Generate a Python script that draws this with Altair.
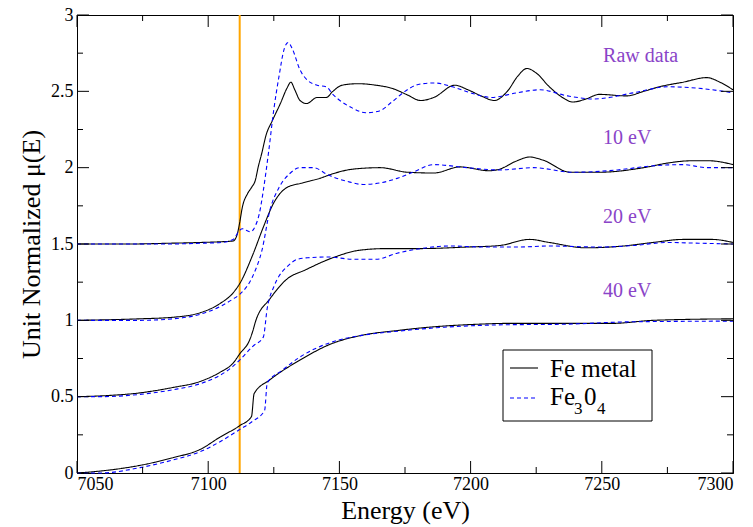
import altair as alt
import pandas as pd

# Fe K-edge normalized absorption, Fe metal vs Fe3O4, at several broadenings.
# Each broadening level is shifted up by 0.5 for display.

raw_fe_e = [7050, 7070, 7085, 7097, 7105, 7109.5, 7111, 7112, 7113, 7115, 7116.5, 7118,
            7119, 7120.5, 7122, 7124.5, 7127.5, 7130, 7131.5, 7133, 7135, 7137.5, 7141.5,
            7145, 7147.5, 7151, 7157, 7164, 7170, 7175.5, 7181, 7186, 7194, 7199, 7204,
            7209, 7214, 7218, 7221.5, 7225, 7230, 7235, 7239, 7244, 7249, 7259.5, 7266,
            7272, 7281, 7290, 7295, 7300]
raw_fe_mu = [1.50, 1.50, 1.505, 1.51, 1.515, 1.52, 1.56, 1.64, 1.74, 1.83, 1.87, 1.92,
             2.00, 2.10, 2.21, 2.31, 2.42, 2.52, 2.56, 2.51, 2.44, 2.42, 2.46,
             2.46, 2.50, 2.54, 2.55, 2.54, 2.52, 2.48, 2.44, 2.46, 2.54, 2.51, 2.47,
             2.44, 2.50, 2.60, 2.65, 2.62, 2.53, 2.46, 2.43, 2.45, 2.48, 2.47, 2.50,
             2.53, 2.56, 2.59, 2.56, 2.51]

raw_ox_e = [7050, 7070, 7085, 7097, 7105, 7109.5, 7112, 7113, 7116, 7118, 7119.5, 7121,
            7123, 7125, 7127, 7129, 7130.5, 7132, 7135, 7138, 7141.5, 7145, 7147.5, 7151,
            7155, 7160, 7165, 7170, 7175, 7180, 7186, 7193, 7200, 7208, 7217.5, 7226.5,
            7237, 7247, 7262, 7275, 7287, 7300]
raw_ox_mu = [1.50, 1.50, 1.50, 1.505, 1.51, 1.53, 1.59, 1.60, 1.58, 1.62, 1.70, 1.85,
             2.10, 2.38, 2.60, 2.78, 2.82, 2.78, 2.64, 2.57, 2.54, 2.53, 2.48, 2.43,
             2.39, 2.36, 2.37, 2.43, 2.50, 2.545, 2.555, 2.53, 2.49, 2.46, 2.49, 2.51,
             2.47, 2.45, 2.49, 2.53, 2.52, 2.49]

b10_fe_e = [7050, 7074, 7086.5, 7097, 7104.5, 7109.5, 7112, 7117, 7121, 7125, 7130, 7136,
            7142.5, 7147.5, 7155, 7165.5, 7176, 7186, 7196, 7207, 7211, 7217, 7222.5,
            7227.5, 7238, 7249, 7266, 7275, 7284, 7291, 7300]
b10_fe_mu = [1.00, 1.01, 1.02, 1.05, 1.11, 1.18, 1.24, 1.43, 1.61, 1.77, 1.87, 1.90,
             1.93, 1.96, 1.99, 2.00, 1.97, 1.965, 2.005, 1.98, 1.99, 2.04, 2.07,
             2.05, 1.97, 1.97, 2.00, 2.03, 2.045, 2.045, 2.02]

b10_ox_e = [7050, 7074, 7086.5, 7097, 7104.5, 7109.5, 7112, 7117, 7120.5, 7123.5, 7127,
            7131, 7135, 7140, 7146, 7153, 7159, 7165.5, 7172, 7178, 7186, 7198.5, 7211,
            7224, 7239, 7256, 7268, 7281, 7290, 7300]
b10_ox_mu = [1.00, 1.00, 1.01, 1.04, 1.09, 1.14, 1.17, 1.29, 1.46, 1.72, 1.87,
             1.96, 2.00, 2.00, 1.95, 1.91, 1.89, 1.90, 1.93, 1.97, 2.02, 2.00, 1.985,
             2.00, 1.97, 1.985, 2.01, 2.02, 2.00, 2.00]

b20_fe_e = [7050, 7059, 7074, 7086.5, 7097, 7104.5, 7109.5, 7112, 7116, 7117, 7118, 7123.5,
            7130, 7137, 7147.5, 7158, 7168, 7181, 7198.5, 7211, 7222.5, 7230, 7244, 7257,
            7269.5, 7281, 7292, 7300]
b20_fe_mu = [0.50, 0.505, 0.525, 0.56, 0.60, 0.66, 0.72, 0.78, 0.88, 0.93, 0.99, 1.14,
             1.27, 1.33, 1.41, 1.46, 1.47, 1.47, 1.48, 1.49, 1.53, 1.51, 1.475, 1.485,
             1.51, 1.53, 1.53, 1.51]

b20_ox_e = [7050, 7059, 7074, 7086.5, 7097, 7104.5, 7109.5, 7112, 7117, 7121, 7122.5, 7125,
            7127, 7130, 7134, 7138, 7146, 7155, 7164, 7172, 7181, 7192, 7205, 7218, 7230,
            7249, 7262, 7275, 7287, 7300]
b20_ox_mu = [0.50, 0.50, 0.515, 0.545, 0.585, 0.64, 0.70, 0.74, 0.83, 0.89, 1.08, 1.22,
             1.29, 1.35, 1.40, 1.41, 1.415, 1.40, 1.40, 1.44, 1.47, 1.487, 1.48, 1.48, 1.487,
             1.48, 1.49, 1.51, 1.505, 1.50]

b40_fe_e = [7050, 7059, 7074, 7086.5, 7097, 7104.5, 7112, 7116.5, 7117.5, 7123.5, 7135,
            7147.5, 7158, 7173, 7181, 7203.5, 7214, 7237, 7254, 7269.5, 7300]
b40_fe_mu = [0.00, 0.013, 0.05, 0.10, 0.155, 0.235, 0.31, 0.37, 0.52, 0.61, 0.74,
             0.85, 0.90, 0.935, 0.95, 0.975, 0.98, 0.98, 0.98, 1.00, 1.01]

b40_ox_e = [7050, 7059, 7074, 7086.5, 7097, 7104.5, 7112, 7117, 7121.5, 7122.5, 7128, 7135,
            7147.5, 7158, 7173, 7190, 7210, 7237, 7260, 7300]
b40_ox_mu = [0.00, 0.00, 0.035, 0.085, 0.14, 0.205, 0.285, 0.34, 0.41, 0.59, 0.67, 0.76,
             0.86, 0.90, 0.93, 0.955, 0.97, 0.975, 0.99, 0.995]

samples = ["Fe metal", "Fe3O4"]
edge_energy = [7112]

set_labels = ["Raw data", "10 eV", "20 eV", "40 eV"]
set_label_e = [7250.5, 7250.5, 7250.5, 7250.5]
set_label_mu = [2.69, 2.155, 1.64, 1.15]

x_major = [7050, 7100, 7150, 7200, 7250, 7300]
x_minor = [7075, 7125, 7175, 7225, 7275]
y_major = [0, 0.5, 1, 1.5, 2, 2.5, 3]
y_minor = [0.25, 0.75, 1.25, 1.75, 2.25, 2.75]

W, H = 656, 458
E_MIN, E_MAX = 7050, 7300
MU_MIN, MU_MAX = 0, 3
SERIF = "Liberation Serif"
PURPLE = "#8a44c8"


def frame(e, mu, sample, level):
    return pd.DataFrame({"energy": e, "mu": mu, "sample": sample, "level": level})


curves = pd.concat([
    frame(raw_fe_e, raw_fe_mu, samples[0], "raw"),
    frame(raw_ox_e, raw_ox_mu, samples[1], "raw"),
    frame(b10_fe_e, b10_fe_mu, samples[0], "b10"),
    frame(b10_ox_e, b10_ox_mu, samples[1], "b10"),
    frame(b20_fe_e, b20_fe_mu, samples[0], "b20"),
    frame(b20_ox_e, b20_ox_mu, samples[1], "b20"),
    frame(b40_fe_e, b40_fe_mu, samples[0], "b40"),
    frame(b40_ox_e, b40_ox_mu, samples[1], "b40"),
], ignore_index=True)

xs = alt.Scale(domain=[E_MIN, E_MAX], nice=False, zero=False)
ys = alt.Scale(domain=[MU_MIN, MU_MAX], nice=False, zero=False)
axis_style = dict(
    ticks=False, grid=False, domainColor="black", domainWidth=1,
    labelFont=SERIF, labelFontSize=18, labelColor="black",
    titleFont=SERIF, titleFontSize=26, titleFontWeight="normal", titleColor="black",
)
x_axis = alt.Axis(values=x_major, format="d", labelPadding=2, titlePadding=4, **axis_style)
y_axis = alt.Axis(values=y_major, format="~g", labelPadding=4, titlePadding=6, **axis_style)
X_TITLE = "Energy (eV)"
Y_TITLE = "Unit Normalized \u03bc(E)"


def X(field):
    return alt.X(field, type="quantitative", scale=xs, axis=x_axis, title=X_TITLE)


def Y(field):
    return alt.Y(field, type="quantitative", scale=ys, axis=y_axis, title=Y_TITLE)


edge = alt.Chart(pd.DataFrame({"e0": edge_energy})).mark_rule(
    color="#ffa500", strokeWidth=2
).encode(x=X("e0"))

lines = alt.Chart(curves).mark_line(strokeWidth=1.1, interpolate="monotone").encode(
    x=X("energy"),
    y=Y("mu"),
    color=alt.Color("sample:N", scale=alt.Scale(domain=samples, range=["#000000", "#0000ff"]),
                    legend=None),
    strokeDash=alt.StrokeDash("sample:N",
                              scale=alt.Scale(domain=samples, range=[[1, 0], [4, 3]]),
                              legend=None),
    detail="level:N",
)

labels = alt.Chart(pd.DataFrame({"t": set_labels, "e": set_label_e, "m": set_label_mu})).mark_text(
    align="left", baseline="alphabetic", font=SERIF, fontSize=20, color=PURPLE
).encode(x=X("e"), y=Y("m"), text="t:N")


# inward frame ticks on all four sides (axis furniture, placed in the frame's pixel space
# with the same linear mapping as the plot scales)
def energy_px(v):
    return (v - E_MIN) / (E_MAX - E_MIN) * W


def mu_px(v):
    return H - (v - MU_MIN) / (MU_MAX - MU_MIN) * H


def frame_tick(x, x2, y, y2):
    return alt.Chart(pd.DataFrame({"k": [0]})).mark_rule(color="black", strokeWidth=1).encode(
        x=alt.value(x), x2=alt.value(x2), y=alt.value(y), y2=alt.value(y2))


ticks = []
for vals, length in ((x_major, 12), (x_minor, 6)):
    for v in vals:
        p = energy_px(v)
        ticks.append(frame_tick(p, p, H, H - length))
        ticks.append(frame_tick(p, p, 0, length))
for vals, length in ((y_major, 12), (y_minor, 6)):
    for v in vals:
        p = mu_px(v)
        ticks.append(frame_tick(0, length, p, p))
        ticks.append(frame_tick(W, W - length, p, p))

# legend box
lg_x0, lg_y0 = 426, 335
legend_box = alt.Chart(pd.DataFrame({"k": [0]})).mark_rect(
    fill="white", stroke="black", strokeWidth=1
).encode(x=alt.value(lg_x0), x2=alt.value(lg_x0 + 149),
         y=alt.value(lg_y0), y2=alt.value(lg_y0 + 71))

legend_metal = alt.Chart(pd.DataFrame({"k": [0]})).mark_rule(color="black", strokeWidth=1.1).encode(
    x=alt.value(lg_x0 + 7), x2=alt.value(lg_x0 + 35), y=alt.value(lg_y0 + 18))
legend_oxide = alt.Chart(pd.DataFrame({"k": [0]})).mark_rule(
    color="#0000ff", strokeWidth=1.1, strokeDash=[4, 3]
).encode(x=alt.value(lg_x0 + 7), x2=alt.value(lg_x0 + 35), y=alt.value(lg_y0 + 48))


def legend_text(text, dx, dy, size):
    return alt.Chart(pd.DataFrame({"k": [0]})).mark_text(
        text=text, align="left", baseline="alphabetic", font=SERIF, fontSize=size, color="black"
    ).encode(x=alt.value(lg_x0 + dx), y=alt.value(lg_y0 + dy))


legend_parts = [
    legend_box, legend_metal, legend_oxide,
    legend_text("Fe metal", 47, 27, 25),
    legend_text("Fe", 47, 55, 25),
    legend_text("3", 71, 64, 17),
    legend_text("0", 81, 55, 25),
    legend_text("4", 94, 64, 17),
]

chart = alt.layer(edge, lines, labels, *ticks, *legend_parts).properties(
    width=W, height=H,
    background="white",
    padding={"left": 77, "top": 15, "right": 20, "bottom": 54},
    autosize=alt.AutoSizeParams(type="none"),
).configure_view(stroke="black", strokeWidth=1)

chart.save("out.html", embed_options={"renderer": "svg", "actions": False})
